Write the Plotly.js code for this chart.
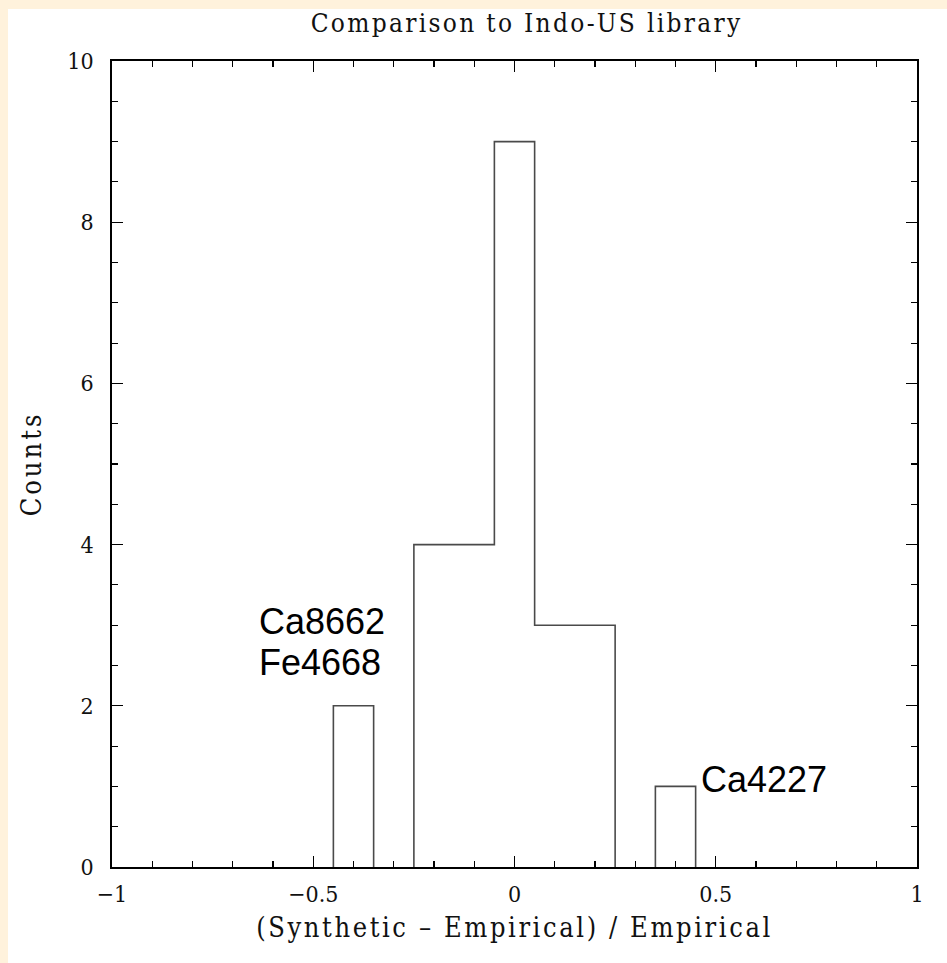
<!DOCTYPE html>
<html>
<head>
<meta charset="utf-8">
<script src="https://cdn.plot.ly/plotly-3.0.1.min.js"></script>
<style>
  html, body { margin: 0; padding: 0; background: #FFF2DC; width: 947px; height: 963px; overflow: hidden; }
  #chart { position: absolute; left: 8px; top: 9px; width: 939px; height: 954px; background: #ffffff; }
  #chart .gtitle { letter-spacing: 2.3px; }
  #chart .xtitle { letter-spacing: 2.6px; }
  #chart .ytitle { letter-spacing: 3px; }
</style>
</head>
<body>
<div id="chart"></div>
<script>
// Histogram data (bin centres and counts)
const binCenters = [-0.4, -0.3, -0.2, -0.1, 0.0, 0.1, 0.2, 0.3, 0.4];
const counts     = [2, 0, 4, 4, 9, 3, 3, 0, 1];
const binWidth   = 0.1;

// Labels
const titleText  = "Comparison to Indo-US library";
const xTitleText = "(Synthetic \u2013 Empirical) / Empirical";
const yTitleText = "Counts";
const labelTexts = ["Ca8662", "Fe4668", "Ca4227"];
const labelX     = [-0.478, -0.483, 0.62];
const labelY     = [3.04, 2.54, 1.08];

// Build step outline from bins (break the line on empty bins)
const stepX = [];
const stepY = [];
binCenters.forEach((c, i) => {
  const left = c - binWidth / 2, right = c + binWidth / 2;
  const prev = i > 0 ? counts[i - 1] : 0;
  if (counts[i] === 0) {
    stepX.push(left);  stepY.push(0);
    stepX.push(left);  stepY.push(null);
    return;
  }
  if (prev === 0) { stepX.push(left); stepY.push(0); }
  stepX.push(left); stepY.push(counts[i]);
  if (i === binCenters.length - 1) {
    stepX.push(right); stepY.push(0);
  }
});

const serif = "'DejaVu Serif Condensed', 'DejaVu Serif', serif";

const trace = {
  type: "scatter",
  mode: "lines",
  x: stepX,
  y: stepY,
  connectgaps: false,
  line: { shape: "hv", color: "#4a4a4a", width: 1.6 },
  hoverinfo: "skip",
  showlegend: false
};

const axisCommon = {
  showgrid: false,
  zeroline: false,
  showline: true,
  linecolor: "#000",
  linewidth: 1.8,
  mirror: "allticks",
  ticks: "inside",
  tickcolor: "#000",
  tickwidth: 1.2,
  ticklen: 11,
  tickfont: { family: serif, size: 23, color: "#111" },
};

const layout = {
  width: 939,
  height: 954,
  paper_bgcolor: "#ffffff",
  plot_bgcolor: "#ffffff",
  margin: { l: 104, r: 30, t: 52, b: 96 },
  title: {
    text: titleText,
    font: { family: serif, size: 26, color: "#111" },
    x: 0.515, xanchor: "center", xref: "paper",
    y: 0.9858, yanchor: "middle", yref: "container"
  },
  xaxis: Object.assign({}, axisCommon, {
    range: [-1, 1],
    tickvals: [-1, -0.5, 0, 0.5, 1],
    ticktext: ["\u22121", "\u22120.5", "0", "0.5", "1"],
    minor: { tickmode: "linear", tick0: -1, dtick: 0.1, ticklen: 6, tickcolor: "#000", tickwidth: 1.1, ticks: "inside" },
    ticklabelstandoff: 6,
    title: { text: xTitleText, font: { family: serif, size: 27, color: "#111" }, standoff: 12 }
  }),
  yaxis: Object.assign({}, axisCommon, {
    range: [0, 10],
    tickmode: "linear", tick0: 0, dtick: 2,
    minor: { tickmode: "linear", tick0: 0, dtick: 0.5, ticklen: 6, tickcolor: "#000", tickwidth: 1.1, ticks: "inside" },
    ticklabelstandoff: 12,
    title: { text: yTitleText, font: { family: serif, size: 27, color: "#111" }, standoff: 18 }
  }),
  annotations: labelTexts.map((t, i) => ({
    text: t,
    x: labelX[i], y: labelY[i],
    xref: "x", yref: "y",
    showarrow: false,
    xanchor: "center", yanchor: "middle",
    font: { family: "Liberation Sans", size: 36, color: "#000" }
  }))
};

Plotly.newPlot("chart", [trace], layout, { staticPlot: true, displayModeBar: false });
</script>
</body>
</html>
